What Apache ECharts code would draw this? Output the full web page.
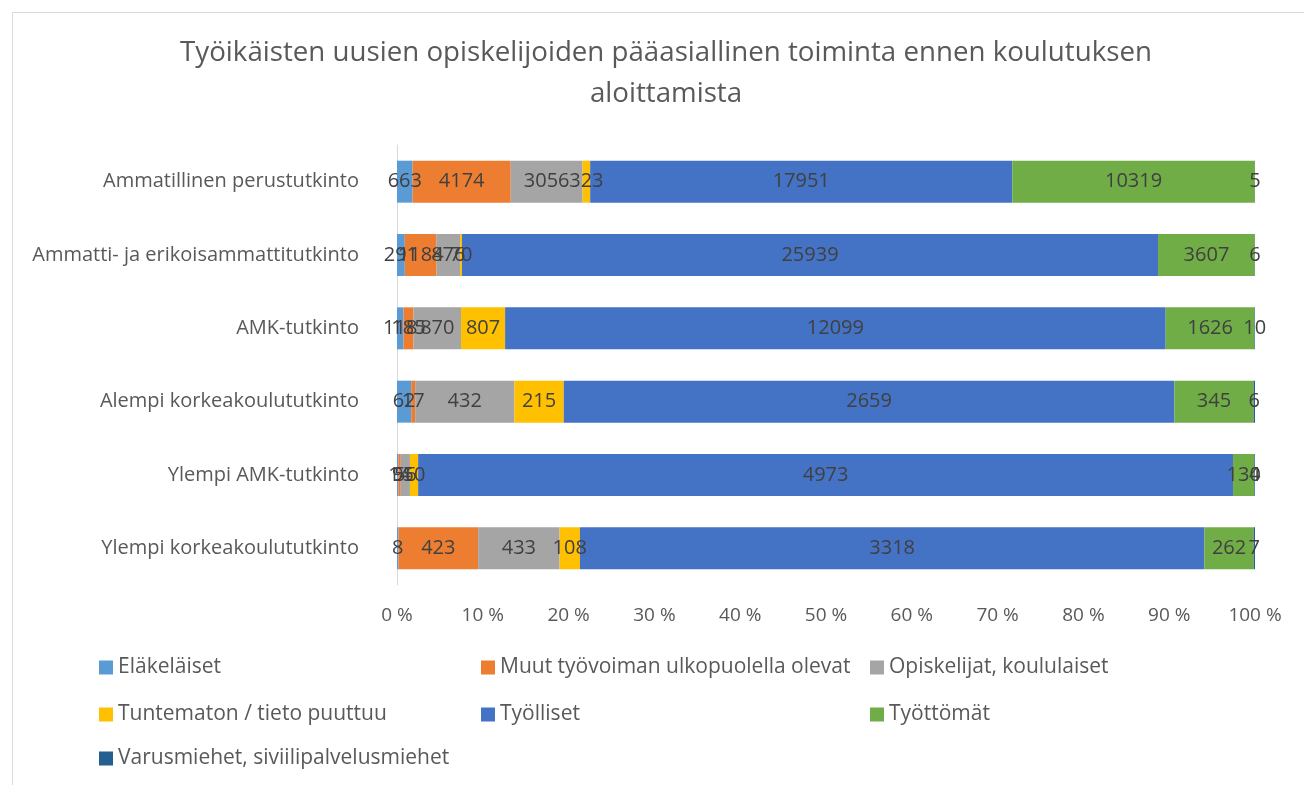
<!DOCTYPE html>
<html>
<head>
<meta charset="utf-8">
<script src="https://cdn.jsdelivr.net/npm/echarts@6/dist/echarts.min.js"></script>
<style>
  html, body { margin: 0; padding: 0; background: #fff; }
  #chart { width: 1304px; height: 785px; }
</style>
</head>
<body>
<div id="chart"></div>
<script>
// categories, top to bottom
const categories = [
  'Ammatillinen perustutkinto',
  'Ammatti- ja erikoisammattitutkinto',
  'AMK-tutkinto',
  'Alempi korkeakoulututkinto',
  'Ylempi AMK-tutkinto',
  'Ylempi korkeakoulututkinto'
]

// counts per category for each group
const elakelaiset = [663, 291, 118, 62, 9, 8]
const muut = [4174, 1184, 185, 17, 14, 423]
const opiskelijat = [3056, 876, 870, 432, 56, 433]
const tuntematon = [323, 70, 807, 215, 50, 108]
const tyolliset = [17951, 25939, 12099, 2659, 4973, 3318]
const tyottomat = [10319, 3607, 1626, 345, 130, 262]
const varusmiehet = [5, 6, 10, 6, 4, 7]

const xTicks = [0, 10, 20, 30, 40, 50, 60, 70, 80, 90, 100]

const groups = [
  { name: 'Eläkeläiset', data: elakelaiset, color: '#5B9BD5' },
  { name: 'Muut työvoiman ulkopuolella olevat', data: muut, color: '#ED7D31' },
  { name: 'Opiskelijat, koululaiset', data: opiskelijat, color: '#A5A5A5' },
  { name: 'Tuntematon / tieto puuttuu', data: tuntematon, color: '#FFC000' },
  { name: 'Työlliset', data: tyolliset, color: '#4472C4' },
  { name: 'Työttömät', data: tyottomat, color: '#70AD47' },
  { name: 'Varusmiehet, siviilipalvelusmiehet', data: varusmiehet, color: '#255E91' }
]

const FONT = 'Open Sans'
const GRAY = '#595959'

// row totals for the 100 % stacking
const totals = categories.map((c, i) => groups.reduce((s, g) => s + g.data[i], 0))

const series = groups.map(g => ({
  name: g.name,
  type: 'bar',
  stack: 'all',
  barWidth: 42,
  itemStyle: { color: g.color },
  label: {
    show: true,
    position: 'inside',
    color: '#404040',
    fontFamily: FONT,
    fontSize: 20,
    formatter: p => p.data.raw
  },
  data: g.data.map((v, i) => ({ value: v / totals[i] * 100, raw: v }))
}))

// legend laid out in three columns like the original
const legendPos = [
  [94, 652], [476, 652], [865, 652],
  [94, 699], [476, 699], [865, 699],
  [94, 743]
]
const legends = groups.map((g, i) => ({
  data: [g.name],
  left: legendPos[i][0],
  top: legendPos[i][1],
  icon: 'rect',
  itemWidth: 14,
  itemHeight: 14,
  selectedMode: false,
  textStyle: { color: GRAY, fontFamily: FONT, fontSize: 21 }
}))

const chart = echarts.init(document.getElementById('chart'))
chart.setOption({
  animation: false,
  backgroundColor: '#fff',
  title: {
    text: 'Työikäisten uusien opiskelijoiden pääasiallinen toiminta ennen koulutuksen\naloittamista',
    left: 661,
    textAlign: 'center',
    top: 28,
    textStyle: { color: GRAY, fontFamily: FONT, fontSize: 27.7, fontWeight: 'normal', lineHeight: 41 }
  },
  graphic: [{
    type: 'rect',
    shape: { x: 12.5, y: 12.5, width: 1320, height: 800 },
    style: { fill: 'none', stroke: '#d9d9d9', lineWidth: 1 },
    silent: true
  }],
  legend: legends,
  grid: { left: 397, right: 49, top: 145, bottom: 200 },
  xAxis: {
    type: 'value',
    min: 0,
    max: 100,
    interval: 10,
    axisLine: { show: false },
    axisTick: { show: false },
    splitLine: { show: false },
    axisLabel: {
      color: GRAY,
      fontFamily: FONT,
      fontSize: 19,
      margin: 21,
      formatter: v => xTicks.includes(v) ? v + ' %' : ''
    }
  },
  yAxis: {
    type: 'category',
    inverse: true,
    data: categories,
    axisLine: { show: true, lineStyle: { color: '#d9d9d9' } },
    axisTick: { show: false },
    axisLabel: { color: GRAY, fontFamily: FONT, fontSize: 20, margin: 38 }
  },
  series: series
})
</script>
</body>
</html>
